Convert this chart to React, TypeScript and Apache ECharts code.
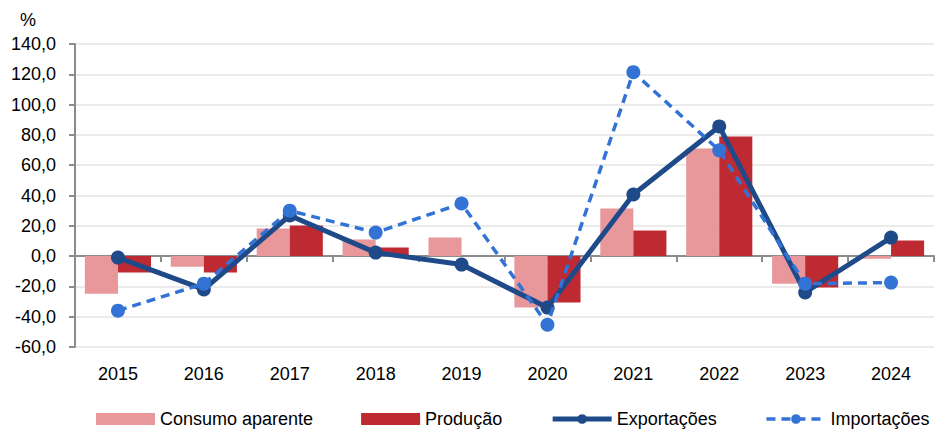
import React, { useEffect, useRef } from "react";
import * as echarts from "echarts";

const years = ["2015", "2016", "2017", "2018", "2019", "2020", "2021", "2022", "2023", "2024"];
const consumoAparente = [-24.8, -7, 18.2, 10.9, 12.2, -34, 31.4, 71, -18.2, -1.7];
const producao = [-10.9, -10.9, 20.2, 5.6, 0, -30.7, 16.9, 79, -20.8, 10.3];
const exportacoes = [-1, -22, 26.8, 2.3, -5.6, -34, 40.7, 85.6, -24, 12.2];
const importacoes = [-36, -18.2, 30, 15.5, 34.7, -45.3, 121.4, 69.8, -18.2, -17.5];

const FONT = "Liberation Sans, Arial, sans-serif";

export default function App() {
  const ref = useRef<HTMLDivElement>(null);
  useEffect(() => {
    if (!ref.current) return;
    const chart = echarts.init(ref.current, null, { renderer: "svg" });
    chart.setOption({
      animation: false,
      backgroundColor: "#ffffff",
      textStyle: { fontFamily: FONT },
      graphic: [
        {
          type: "text",
          left: 20,
          top: 11,
          style: { text: "%", fontSize: 18, fill: "#000000", fontFamily: FONT },
        },
      ],
      grid: { left: 75, right: 1, top: 44, bottom: 83, containLabel: false },
      legend: {
        left: 96,
        top: 410,
        width: 839,
        padding: 0,
        itemWidth: 59,
        itemHeight: 12,
        itemGap: 48,
        itemTextGap: 6,
        textStyle: { fontSize: 18, color: "#000000", fontFamily: FONT },
        data: [
          { name: "Consumo aparente", icon: "rect" },
          { name: "Produção", icon: "rect" },
          { name: "Exportações", lineStyle: { width: 5 } },
          { name: "Importações", lineStyle: { width: 3.5 } },
        ],
      },
      xAxis: [
        {
          type: "category",
          data: years,
          axisLine: { show: false, onZero: false },
          axisTick: { show: false },
          axisLabel: { fontSize: 18, color: "#000000", margin: 18, fontFamily: FONT },
          splitLine: { show: false },
        },
        {
          type: "category",
          data: years,
          position: "bottom",
          axisLine: { show: true, onZero: true, lineStyle: { color: "#8c8c8c", width: 2 } },
          axisTick: { show: true, alignWithLabel: false, length: 6, lineStyle: { color: "#8c8c8c", width: 2 } },
          axisLabel: { show: false },
          splitLine: { show: false },
        },
      ],
      yAxis: {
        type: "value",
        min: -60,
        max: 140,
        interval: 20,
        axisLine: { show: true, lineStyle: { color: "#8c8c8c", width: 2 } },
        axisTick: { show: true, length: 6, lineStyle: { color: "#8c8c8c", width: 2 } },
        axisLabel: {
          fontSize: 18,
          color: "#000000",
          margin: 19,
          fontFamily: FONT,
          formatter: (v: number) => v.toFixed(1).replace(".", ","),
        },
        splitLine: { show: true, lineStyle: { color: "#ebebeb", width: 2 } },
      },
      series: [
        {
          name: "Consumo aparente",
          type: "bar",
          data: consumoAparente,
          barGap: "0%",
          barCategoryGap: "23%",
          itemStyle: { color: "#e8979b" },
        },
        {
          name: "Produção",
          type: "bar",
          data: producao,
          itemStyle: { color: "#be2a32" },
        },
        {
          name: "Exportações",
          type: "line",
          data: exportacoes,
          symbol: "circle",
          symbolSize: 14,
          lineStyle: { color: "#1f4a8a", width: 5 },
          itemStyle: { color: "#1f4a8a" },
          z: 3,
        },
        {
          name: "Importações",
          type: "line",
          data: importacoes,
          symbol: "circle",
          symbolSize: 14,
          lineStyle: { color: "#3373d6", width: 3.5, type: [9, 6] },
          itemStyle: { color: "#3373d6" },
          z: 4,
        },
      ],
    });
    return () => chart.dispose();
  }, []);
  return <div ref={ref} style={{ width: 935, height: 430, position: "absolute", left: 0, top: 0 }} />;
}
